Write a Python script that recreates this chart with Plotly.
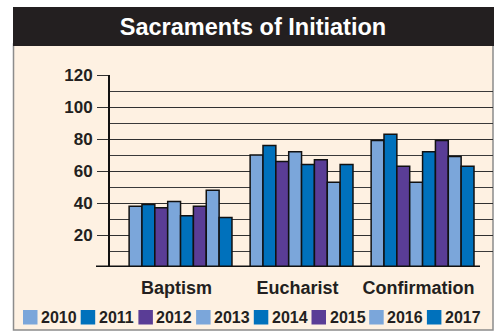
import plotly.graph_objects as go

# --- data ---
categories = ["Baptism", "Eucharist", "Confirmation"]
years = ["2010", "2011", "2012", "2013", "2014", "2015", "2016", "2017"]
baptism = [38, 39, 37, 41, 32, 38, 48, 31]
eucharist = [70, 76, 66, 72, 64, 67, 53, 64]
confirmation = [79, 83, 63, 53, 72, 79, 69, 63]
y_ticks = [20, 40, 60, 80, 100, 120]

# --- styling ---
LIGHT = "#7BA6DA"
BLUE = "#0071BC"
PURPLE = "#5A3D96"
year_colors = [LIGHT, BLUE, PURPLE, LIGHT, BLUE, PURPLE, LIGHT, BLUE]
INK = "#231F20"
CREAM = "#FEF1E2"
BOLD = "Liberation Sans, Arial, sans-serif"

W, H = 498, 332
L, R, T, B = 110, 5, 75, 65
PW, PH = W - L - R, H - T - B


def px_x(px):
    return (px - L) / PW


def px_y(py):
    return (H - B - py) / PH


fig = go.Figure()
for i, yr in enumerate(years):
    fig.add_trace(go.Bar(
        name=yr,
        x=categories,
        y=[baptism[i], eucharist[i], confirmation[i]],
        marker=dict(color=year_colors[i], line=dict(color="#111111", width=1.5)),
        showlegend=False,
    ))

shapes = [
    # cream panel with grey frame
    dict(type="rect", xref="paper", yref="paper", layer="below",
         x0=px_x(13.5), x1=px_x(493), y0=px_y(330), y1=px_y(44),
         fillcolor=CREAM, line=dict(color="#8C8C8C", width=1.5)),
    # black title band
    dict(type="rect", xref="paper", yref="paper", layer="below",
         x0=px_x(13), x1=px_x(494), y0=px_y(46), y1=px_y(7),
         fillcolor=INK, line=dict(width=0)),
    # heavy baseline
    dict(type="line", xref="paper", yref="y", layer="above",
         x0=px_x(96), x1=px_x(480), y0=0, y1=0,
         line=dict(color="#111111", width=3)),
]

annotations = []
# year key along the bottom
for i, yr in enumerate(years):
    x0 = 23 + i * 57.7
    shapes.append(dict(type="rect", xref="paper", yref="paper",
                       x0=px_x(x0), x1=px_x(x0 + 14.5),
                       y0=px_y(324.5), y1=px_y(310),
                       fillcolor=year_colors[i], line=dict(width=0)))
    annotations.append(dict(xref="paper", yref="paper",
                            x=px_x(x0 + 16), y=px_y(317.5),
                            xanchor="left", yanchor="middle", showarrow=False,
                            text=yr, font=dict(family=BOLD, size=16,
                                               color=INK, weight="bold")))

fig.update_layout(
    width=W, height=H,
    margin=dict(l=L, r=R, t=T, b=B),
    paper_bgcolor="white",
    plot_bgcolor="rgba(0,0,0,0)",
    barmode="group",
    bargap=0.15,
    bargroupgap=0,
    showlegend=False,
    title=dict(text="Sacraments of Initiation", xref="paper", x=px_x(253),
               xanchor="center", yref="container", y=1 - 26.5 / H,
               yanchor="middle",
               font=dict(family=BOLD, size=23.5, color="white", weight="bold")),
    xaxis=dict(
        range=[-0.583, 2.582],
        showgrid=False, zeroline=False, showline=False,
        ticks="outside", ticklen=4, tickcolor="rgba(0,0,0,0)",
        ticklabelshift=-4,
        tickfont=dict(family=BOLD, size=18, color=INK, weight="bold"),
    ),
    yaxis=dict(
        range=[0, 120],
        tickvals=y_ticks,
        showgrid=True, gridcolor="#303030", gridwidth=1.3,
        zeroline=False,
        showline=True, linecolor="#111111", linewidth=2,
        ticks="outside", ticklen=11, tickcolor="#303030", tickwidth=1.3,
        ticklabelstandoff=1,
        tickfont=dict(family=BOLD, size=17, color=INK, weight="bold"),
        minor=dict(dtick=10, showgrid=True, gridcolor="#3a3a3a", gridwidth=1.3,
                   ticks=""),
    ),
    shapes=shapes,
    annotations=annotations,
)

fig.write_html("out.html")
